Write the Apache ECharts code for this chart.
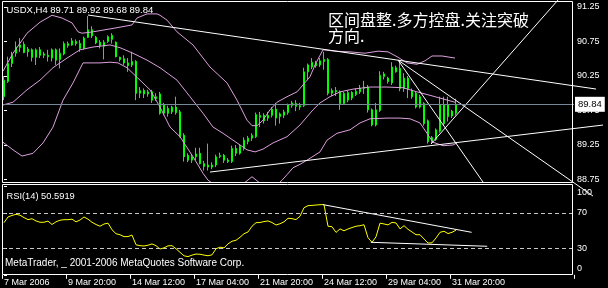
<!DOCTYPE html>
<html><head><meta charset="utf-8">
<script src="https://cdn.jsdelivr.net/npm/echarts@6/dist/echarts.min.js"></script>
<style>html,body{margin:0;padding:0;background:#000;}#c{width:608px;height:288px;}</style>
</head><body><div id="c"></div>
<script>
// ---------- data ----------
const symbolText = 'USDX,H4';
const lastOHLC = [89.71, 89.92, 89.68, 89.84];
const xTickLabels = ['7 Mar 2006','9 Mar 20:00','14 Mar 12:00','17 Mar 04:00','21 Mar 20:00','24 Mar 12:00','29 Mar 04:00','31 Mar 20:00'];
const priceTicks = [88.75, 89.25, 89.75, 90.25, 90.75, 91.25];
const rsiTicks = [0, 30, 70, 100];
const rsiLevels = [30, 70];
const rsiTitle = 'RSI(14) 50.5919';
const noteLine1 = '区间盘整.多方控盘.关注突破';
const noteLine2 = '方向.';
const copyright = 'MetaTrader, _ 2001-2006 MetaQuotes Software Corp.';

const opens = [89.95,90.17,90.43,90.58,90.66,90.71,90.60,90.63,90.52,90.63,
90.55,90.55,90.51,90.63,90.49,90.57,90.69,90.70,90.75,90.72,
90.65,90.81,90.92,90.81,90.74,90.68,90.75,90.78,90.74,90.52,
90.50,90.44,90.41,90.46,90.00,90.04,89.99,90.02,89.92,89.99,
89.71,89.78,89.73,89.80,89.73,89.39,89.10,89.03,89.08,89.13,
88.98,88.93,88.96,88.96,89.08,89.10,89.03,89.01,89.20,89.13,
89.20,89.30,89.35,89.37,89.65,89.68,89.64,89.68,89.77,89.66,
89.68,89.72,89.82,89.85,89.80,89.82,90.31,90.38,90.44,90.41,
90.46,90.49,90.00,90.04,90.02,89.85,89.90,90.01,89.98,90.02,
90.07,90.09,89.76,89.54,89.75,90.24,90.22,90.15,90.31,90.36,
90.07,90.22,90.03,90.00,89.80,89.85,89.60,89.30,89.33,89.45,
89.83,89.66,89.74,89.71];
const closes = [90.19,90.43,90.55,90.67,90.70,90.59,90.64,90.52,90.63,90.55,
90.57,90.53,90.63,90.48,90.58,90.72,90.72,90.76,90.72,90.65,
90.80,90.92,90.83,90.73,90.69,90.74,90.82,90.84,90.53,90.49,
90.44,90.40,90.46,90.00,90.04,89.99,90.02,89.90,89.95,89.71,
89.83,89.71,89.80,89.72,89.37,89.08,89.03,89.08,89.12,88.98,
88.94,88.96,88.93,89.08,89.10,89.03,89.01,89.20,89.13,89.23,
89.32,89.35,89.39,89.69,89.68,89.60,89.68,89.77,89.64,89.70,
89.73,89.83,89.86,89.81,89.82,90.31,90.41,90.45,90.40,90.47,
90.49,90.00,90.04,90.02,89.85,90.00,90.01,89.93,90.03,90.07,
90.09,89.76,89.54,89.76,90.26,90.28,90.17,90.38,90.37,90.07,
90.22,90.07,89.95,89.80,89.95,89.56,89.30,89.36,89.47,89.83,
89.56,89.83,89.67,89.84];
const lows = [89.90,90.15,90.38,90.53,90.60,90.58,90.53,90.46,90.41,90.51,
90.51,90.46,90.46,90.41,90.36,90.55,90.66,90.69,90.69,90.60,
90.63,90.80,90.80,90.71,90.65,90.49,90.73,90.72,90.52,90.46,
90.41,90.31,90.38,89.90,89.93,89.93,89.95,89.86,89.89,89.69,
89.68,89.66,89.70,89.69,89.36,89.01,89.00,88.99,89.03,88.97,
88.88,88.88,88.90,88.93,89.06,88.99,88.99,88.99,89.09,89.11,
89.17,89.26,89.31,89.35,89.51,89.56,89.60,89.65,89.53,89.56,
89.64,89.69,89.79,89.74,89.76,89.80,90.19,90.35,90.37,90.38,
90.34,89.97,89.96,89.96,89.76,89.83,89.87,89.90,89.96,89.99,
89.99,89.72,89.52,89.52,89.73,90.20,90.14,90.12,90.30,90.03,
90.02,89.93,89.92,89.78,89.78,89.53,89.27,89.27,89.31,89.43,
89.54,89.59,89.64,89.68];
const highs = [90.25,90.53,90.60,90.75,90.80,90.75,90.67,90.65,90.65,90.67,
90.60,90.63,90.65,90.65,90.65,90.75,90.75,90.80,90.78,90.77,
90.82,91.12,90.97,90.83,90.77,90.77,90.84,90.87,90.75,90.53,
90.55,90.51,90.60,90.48,90.09,90.07,90.05,90.05,90.00,90.02,
89.86,89.82,89.82,89.95,89.76,89.42,89.13,89.12,89.21,89.21,
89.02,89.27,89.00,89.11,89.14,89.12,89.06,89.24,89.25,89.26,
89.36,89.38,89.42,89.72,89.73,89.71,89.73,89.80,89.86,89.72,
89.76,89.85,89.89,89.90,89.86,90.37,90.43,90.51,90.47,90.51,
90.60,90.51,90.07,90.09,90.04,90.02,90.04,90.03,90.07,90.12,
90.18,90.12,89.78,89.86,90.32,90.31,90.24,90.45,90.40,90.48,
90.29,90.25,90.07,90.02,89.98,89.87,89.62,89.38,89.49,89.95,
89.95,89.95,89.76,89.92];

const rsiValues = [59,65.5,67.2,68.5,67.5,64.8,62.5,63.5,61,59.5,
59.5,60.8,57,60,61.8,62.4,62.4,63,60,62,
65.5,63,59.5,57,55,57.5,58.5,51,46.5,45.4,
43.2,43.3,45,34,33,32.6,33.5,35,33,29.2,
30.5,32.8,33,29.5,25.5,21.5,20.6,22.3,23.5,23.3,
22.3,21.6,22.6,29.5,31.3,30.5,35,38,39.1,42.5,
46.5,48.5,55,59,59.2,60.3,61,59.2,56.4,57.8,
60,64,63.6,62.5,66.3,76,78.3,78.6,79,79.4,
79.5,55,54.5,48,52,49.8,51.9,53.5,55,55.6,
56.7,42,36.8,43,58.5,57.6,56.5,59.4,58.7,52,
55.6,51.5,48.5,45.4,45.4,40.6,36,36.2,41.7,48.1,
49.3,46.7,48.1,50.59];

// Bollinger band lines as [bar index, price]
const bbUpper = [[-0.25,90.32],[2.25,90.58],[5.75,90.87],[9,91.03],[12,91.13],[14.5,91.09],[17,91.02],[18.5,90.89],[19.5,90.87],[22.25,90.89],[28.25,90.95],[32,90.99],[33.25,91.09],[35.75,91.15],[38.25,91.15],[39,91.13],[40.75,91.06],[43.25,90.89],[47.25,90.70],[51.5,90.38],[55.75,90.15],[58.25,89.90],[60.75,89.61],[62,89.53],[63.25,89.53],[64.75,89.61],[66.5,89.76],[68.25,89.87],[70.75,89.95],[73.25,90.02],[74.75,90.12],[76.5,90.24],[77.75,90.41],[79,90.55],[79.75,90.63],[82.75,90.61],[86.5,90.60],[90.25,90.58],[93.5,90.61],[96,90.60],[98.25,90.53],[100.75,90.44],[103.25,90.42],[105.25,90.47],[107,90.54],[109.5,90.54],[112.75,90.51]];
const bbMiddle = [[-0.25,89.83],[2.25,89.87],[5.75,90.05],[9,90.19],[12.25,90.37],[15.75,90.51],[19,90.63],[22.25,90.67],[26.5,90.70],[29,90.66],[32.25,90.58],[35.75,90.48],[39,90.37],[43.25,90.19],[46.5,89.95],[49.75,89.71],[52.25,89.51],[54.75,89.42],[58.25,89.28],[60.75,89.18],[62.75,89.15],[64.75,89.19],[67.25,89.28],[70.75,89.37],[74,89.54],[77.25,89.76],[79,89.86],[81.5,89.95],[84,90.02],[87.25,90.06],[91.5,90.09],[95.75,90.09],[99.75,90.08],[103.25,90.02],[106.5,89.97],[109,89.93],[112.75,89.87]];
const bbLower = [[-0.25,89.29],[2.25,89.18],[4.5,89.09],[7.25,89.13],[9.75,89.28],[12.25,89.51],[14.75,89.90],[17.25,90.15],[19.75,90.44],[24,90.44],[26.5,90.45],[28.5,90.44],[30.75,90.37],[34,90.19],[36.5,90.05],[39,89.80],[41.5,89.51],[44,89.37],[47.25,89.08],[49.75,88.84],[51,88.74],[53.25,88.65],[57,88.60],[60.5,88.72],[62,88.79],[63.5,88.72],[65.5,88.64],[68,88.66],[69.5,88.74],[70.75,88.82],[72.25,88.92],[74,88.97],[75.75,89.03],[79,89.15],[80.75,89.32],[83.25,89.42],[86.5,89.47],[89,89.57],[91.5,89.63],[95.75,89.64],[99,89.64],[101.5,89.63],[104,89.57],[105.75,89.42],[107.25,89.29],[109.75,89.24],[112.25,89.25],[113.25,89.28]];

// hand-drawn trend lines as [bar index, price] end points
const trendTop = [[21,91.134],[148,90.061]];
const trendBottom = [[51.5,88.858],[149.75,89.539]];
const trendRise = [[106.75,89.264],[138.5,91.351]];
const trendFallSteep = [[98.5,90.481],[119.75,88.713]];
const trendFallShallow = [[98.5,90.481],[147.25,88.51]];
const rsiTrendHigh = [[79.7,79.5],[116.9,48.1]];
const rsiTrendLow = [[91.7,36.8],[120.8,32.3]];

// ---------- layout ----------
const NCAT = 143;           // bars + empty space to the right
const LABEL_STEP = 16;
const FONT = 'Liberation Sans';
const PX_PER_BAR = 4;
const PX_PER_PRICE = 69;
const MAIN_TOP = 2, MAIN_H = 180, PRICE_AT_TOP = 91.3225;
// wider overlay grid for the trend lines (same scale, larger extent)
const OV_TOP = 0, OV_H = 200, OV_W = 606;
const ovMax = PRICE_AT_TOP + (MAIN_TOP - OV_TOP) / PX_PER_PRICE;
const ovMin = ovMax - OV_H / PX_PER_PRICE;

const categories = Array.from({length: NCAT}, (_, i) => String(i));
const candleData = opens.map((o, i) => [o, closes[i], lows[i], highs[i]]);
const isLabelIdx = (i) => i % LABEL_STEP === 0 && (i / LABEL_STEP) < xTickLabels.length;

const chart = echarts.init(document.getElementById('c'), null, {renderer: 'canvas'});
const bandSeries = (data) => ({
  type: 'line', xAxisIndex: 1, yAxisIndex: 0, data, symbol: 'none', silent: true,
  lineStyle: {color: '#dda0dd', width: 1}, z: 3
});
const trendSeries = (data) => ({
  type: 'line', xAxisIndex: 4, yAxisIndex: 2, data, symbol: 'none', silent: true,
  lineStyle: {color: '#ffffff', width: 1}, z: 4
});

chart.setOption({
  animation: false,
  backgroundColor: '#000',
  textStyle: {fontFamily: FONT},
  grid: [
    {left: 2, top: MAIN_TOP, width: NCAT * PX_PER_BAR, height: MAIN_H},
    {left: 2, top: 186.5, width: NCAT * PX_PER_BAR, height: 88.3},
    {left: 2, top: OV_TOP, width: OV_W, height: OV_H}
  ],
  xAxis: [
    {gridIndex: 0, type: 'category', data: categories, boundaryGap: true, show: false},
    {gridIndex: 0, type: 'value', min: -0.5, max: NCAT - 0.5, show: false},
    {gridIndex: 1, type: 'category', data: categories, boundaryGap: true,
      axisLine: {show: false},
      axisTick: {show: true, length: 4, interval: (i) => isLabelIdx(i), lineStyle: {color: '#fff'}},
      axisLabel: {show: true, interval: (i) => isLabelIdx(i), align: 'left', margin: 3,
        color: '#fff', fontSize: 9, fontFamily: FONT,
        formatter: (v, i) => isLabelIdx(i) ? xTickLabels[i / LABEL_STEP] : ''}},
    {gridIndex: 1, type: 'value', min: -0.5, max: NCAT - 0.5, show: false},
    {gridIndex: 2, type: 'value', min: -0.5, max: -0.5 + OV_W / PX_PER_BAR, show: false}
  ],
  yAxis: [
    {gridIndex: 0, type: 'value', position: 'right', min: PRICE_AT_TOP - MAIN_H / PX_PER_PRICE, max: PRICE_AT_TOP,
      splitLine: {show: false}, axisLine: {show: false},
      axisTick: {show: true, length: 3, customValues: priceTicks, lineStyle: {color: '#fff'}},
      axisLabel: {customValues: priceTicks, color: '#fff', fontSize: 9, fontFamily: FONT, margin: 3,
        formatter: (v) => v.toFixed(2)}},
    {gridIndex: 1, type: 'value', position: 'right', min: 0, max: 100,
      splitLine: {show: false}, axisLine: {show: false},
      axisTick: {show: true, length: 3, customValues: rsiTicks, lineStyle: {color: '#fff'}},
      axisLabel: {customValues: rsiTicks, color: '#fff', fontSize: 9, fontFamily: FONT, margin: 3,
        formatter: (v) => v === 100 ? '{t|100}' : (v === 0 ? '{b|0}' : String(v)),
        rich: {
          t: {padding: [13, 0, 0, 0], color: '#fff', fontSize: 9, fontFamily: FONT},
          b: {padding: [0, 0, 12, 0], color: '#fff', fontSize: 9, fontFamily: FONT}
        }}},
    {gridIndex: 2, type: 'value', min: ovMin, max: ovMax, show: false}
  ],
  series: [
    {type: 'candlestick', xAxisIndex: 0, yAxisIndex: 0, data: candleData, barWidth: 2, silent: true,
      itemStyle: {color: '#000', color0: '#fff', borderColor: '#00ff00', borderColor0: '#00ff00', borderWidth: 1},
      markLine: {silent: true, symbol: ['none', 'none'], animation: false,
        data: [{yAxis: lastOHLC[3]}],
        lineStyle: {color: '#778899', width: 1, type: 'solid'},
        label: {show: true, position: 'end', distance: 1, formatter: (p) => p.value.toFixed(2),
          color: '#000', backgroundColor: '#fff', fontSize: 9.5, fontFamily: FONT, padding: [3, 3, 2, 3]}}},
    bandSeries(bbUpper),
    bandSeries(bbMiddle),
    bandSeries(bbLower),
    trendSeries(trendTop),
    trendSeries(trendBottom),
    trendSeries(trendRise),
    trendSeries(trendFallSteep),
    trendSeries(trendFallShallow),
    {type: 'line', xAxisIndex: 2, yAxisIndex: 1, data: rsiValues, symbol: 'none', silent: true,
      lineStyle: {color: '#ffff00', width: 1},
      markLine: {silent: true, symbol: ['none', 'none'], animation: false,
        data: rsiLevels.map(v => ({yAxis: v})),
        label: {show: false},
        lineStyle: {color: '#c8c8c8', width: 1, type: [4, 3]}}},
    {type: 'line', xAxisIndex: 3, yAxisIndex: 1, data: rsiTrendHigh, symbol: 'none', silent: true, clip: false,
      lineStyle: {color: '#fff', width: 1}},
    {type: 'line', xAxisIndex: 3, yAxisIndex: 1, data: rsiTrendLow, symbol: 'none', silent: true, clip: false,
      lineStyle: {color: '#fff', width: 1}}
  ],
  graphic: [
    {type: 'rect', silent: true, z: 100, shape: {x: 2.5, y: 1.5, width: 570, height: 181},
      style: {fill: 'none', stroke: '#fff', lineWidth: 1}},
    {type: 'rect', silent: true, z: 100, shape: {x: 2.5, y: 184.5, width: 570, height: 90},
      style: {fill: 'none', stroke: '#fff', lineWidth: 1}},
    {type: 'text', silent: true, z: 100, x: 6.5, y: 10.5,
      style: {text: symbolText + ' ' + lastOHLC.map(v => v.toFixed(2)).join(' '), fill: '#fff',
        fontSize: 9.5, fontFamily: FONT, align: 'left', verticalAlign: 'middle'}},
    {type: 'text', silent: true, z: 100, x: 328, y: 20,
      style: {text: noteLine1, fill: '#fff', fontSize: 16, fontFamily: 'Noto Sans CJK SC', align: 'left', verticalAlign: 'middle'}},
    {type: 'text', silent: true, z: 100, x: 328, y: 36,
      style: {text: noteLine2, fill: '#fff', fontSize: 16, fontFamily: 'Noto Sans CJK SC', align: 'left', verticalAlign: 'middle'}},
    {type: 'text', silent: true, z: 100, x: 6.5, y: 196,
      style: {text: rsiTitle, fill: '#fff', fontSize: 9.3, fontFamily: FONT, align: 'left', verticalAlign: 'middle'}},
    {type: 'text', silent: true, z: 100, x: 5, y: 263,
      style: {text: copyright, fill: '#fff', fontSize: 10, fontFamily: FONT, align: 'left', verticalAlign: 'middle'}}
  ]
});
</script>
</body></html>
